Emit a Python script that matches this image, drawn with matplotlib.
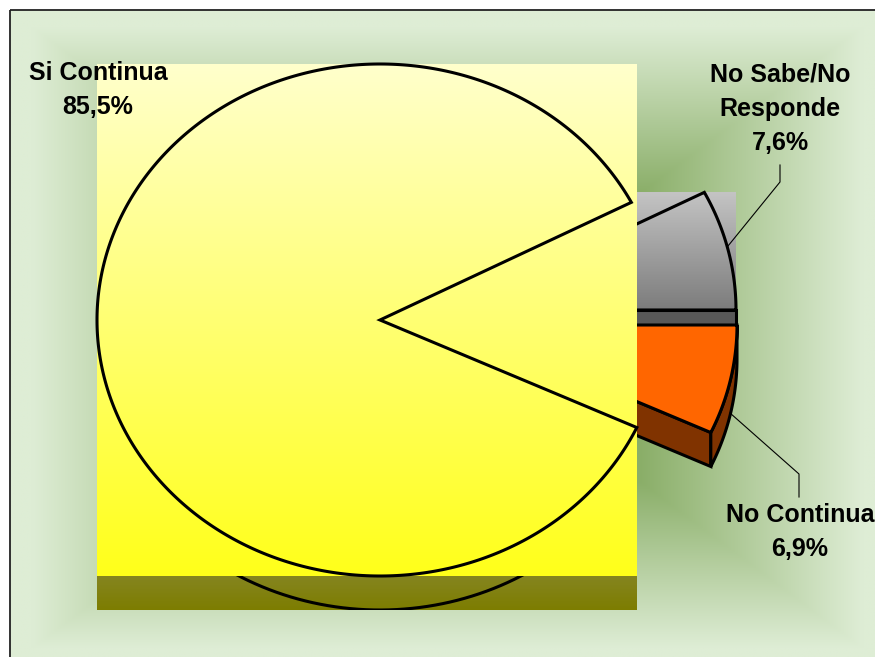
import numpy as np
import matplotlib
matplotlib.use("Agg")
import matplotlib.pyplot as plt
from matplotlib.patches import Polygon, Rectangle
from matplotlib.colors import to_rgb

# data (counter-clockwise from 3 o'clock)
labels = ['No Sabe/No\nResponde', 'Si Continua', 'No Continua']
shares = [7.6, 85.5, 6.9]
pct_labels = ['7,6%', '85,5%', '6,9%']

# layout (pixels, y down)
W, H = 875, 657
RX, RY = 283, 256
DEPTH = 34
CENTER = (380, 320)
explode = [(73, -10), (0, 0), (74, 5)]

fig = plt.figure(figsize=(8.75, 6.57), dpi=100)
ax = fig.add_axes([0, 0, 1, 1])
ax.axis('off')


def mix(c0, c1, t):
    c0, c1 = np.array(to_rgb(c0)), np.array(to_rgb(c1))
    t = np.asarray(t)[..., None]
    return c0 + (c1 - c0) * t


def vgrad(x0, x1, y0, y1, top, bottom, z):
    img = mix(top, bottom, np.linspace(0, 1, 200))[:, None, :]
    ax.imshow(img, extent=(x0, x1, y1, y0), aspect='auto',
              interpolation='bilinear', zorder=z)


def arc(cx, cy, a0, a1, n=200):
    th = np.radians(np.linspace(a0, a1, n))
    return np.column_stack([cx + RX * np.cos(th), cy - RY * np.sin(th)])


# background frame with rectangular "from centre" gradient
fx0, fy0, fx1, fy1 = 10, 10, 885, 665
xs = np.linspace(fx0, fx1, 440)
ys = np.linspace(fy0, fy1, 330)
X, Y = np.meshgrid(xs, ys)
cx0, cy0 = (fx0 + fx1) / 2, (fy0 + fy1) / 2
t = np.maximum(np.abs(X - cx0) / ((fx1 - fx0) / 2), np.abs(Y - cy0) / ((fy1 - fy0) / 2))
t = np.clip((t - 0.44) / 0.51, 0, 1)
ax.imshow(mix('#8aae68', '#deedd5', t), extent=(fx0, fx1, fy1, fy0),
          aspect='auto', interpolation='bilinear', zorder=0)
ax.add_patch(Rectangle((fx0, fy0), fx1 - fx0, fy1 - fy0, fill=False,
                       ec='#222222', lw=1.3, zorder=1))

bounds = np.concatenate([[0], np.cumsum(shares)]) / 100 * 360
LW = 2.2

# No Sabe / No Responde (grey, exploded)
gx, gy = CENTER[0] + explode[0][0], CENTER[1] + explode[0][1]
top = np.vstack([[gx, gy], arc(gx, gy, bounds[0], bounds[1])])
vgrad(gx, top[:, 0].max(), top[:, 1].min(), gy, '#c4c4c4', '#7c7c7c', 2)
ax.add_patch(Polygon(top, closed=True, fill=False, ec='black', lw=LW, zorder=3))
ax.add_patch(Rectangle((gx, gy), top[:, 0].max() - gx, DEPTH, fc='#585858',
                       ec='black', lw=LW, zorder=3))

# No Continua (orange, exploded)
ox, oy = CENTER[0] + explode[2][0], CENTER[1] + explode[2][1]
oarc = arc(ox, oy, bounds[2] - 360, bounds[3] - 360)
edge = oarc[0]
front = [(ox, oy), tuple(edge), (edge[0], edge[1] + DEPTH), (ox, oy + DEPTH)]
ax.add_patch(Polygon(front, closed=True, fc='#803300', ec='black', lw=LW, zorder=4))
outer = np.vstack([oarc, (oarc + [0, DEPTH])[::-1]])
ax.add_patch(Polygon(outer, closed=True, fc='#803300', ec='black', lw=LW, zorder=4))
ax.add_patch(Polygon(np.vstack([[ox, oy], oarc]), closed=True, fc='#ff6600',
                     ec='black', lw=LW, zorder=5))

# Si Continua (yellow)
sx, sy = CENTER
sarc = arc(sx, sy, bounds[1], bounds[2], 400)
stop = np.vstack([[sx, sy], sarc])
bx0, bx1 = stop[:, 0].min(), stop[:, 0].max()
by0, by1 = stop[:, 1].min(), stop[:, 1].max()
vgrad(bx0, bx1, by1, by1 + DEPTH, '#858520', '#7d7d00', 6)
low = arc(sx, sy + DEPTH, 180, bounds[2], 300)
ln, = ax.plot(low[:, 0], low[:, 1], color='black', lw=LW, zorder=7)
ln.set_clip_path(Rectangle((bx0, by1), bx1 - bx0, DEPTH, transform=ax.transData))
vgrad(bx0, bx1, by0, by1, '#ffffcc', '#ffff1a', 8)
ax.add_patch(Polygon(stop, closed=True, fill=False, ec='black', lw=LW, zorder=9))

# labels and leader lines
txt = dict(fontsize=18, fontweight='bold', family='Liberation Sans',
           ha='center', va='center', linespacing=1.55, zorder=10)
ax.text(98, 90, labels[1] + '\n' + pct_labels[1], **txt)
ax.text(780, 109, labels[0] + '\n' + pct_labels[0], **txt)
ax.text(800, 532, labels[2] + '\n' + pct_labels[2], **txt)
ax.plot([780, 780, 728], [165, 182, 246], color='black', lw=0.8, zorder=10)
ax.plot([730, 799, 799], [413, 474, 497], color='black', lw=0.8, zorder=10)

ax.set_xlim(0, W)
ax.set_ylim(H, 0)
fig.savefig('out.png', dpi=100, facecolor='white')
